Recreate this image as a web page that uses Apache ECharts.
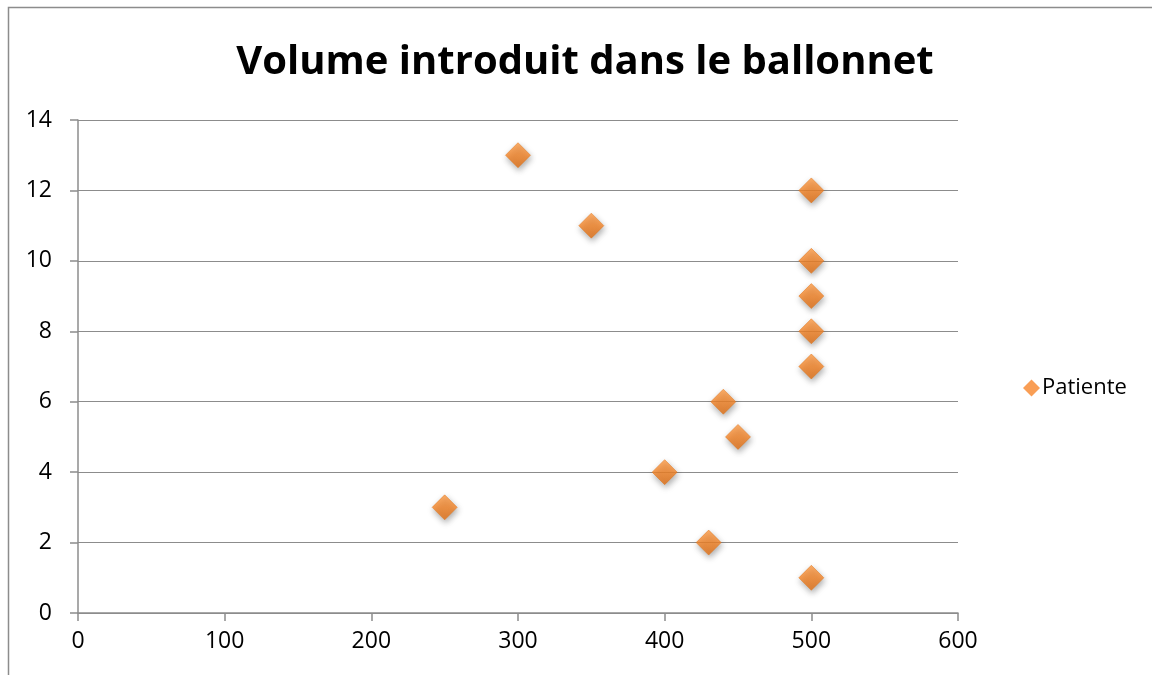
<!DOCTYPE html>
<html><head><meta charset="utf-8">
<script src="https://cdn.jsdelivr.net/npm/echarts@6/dist/echarts.min.js"></script>
<style>html,body{margin:0;padding:0;background:#fff}#c{width:1152px;height:675px}</style>
</head><body><div id="c"></div>
<script>
const title = 'Volume introduit dans le ballonnet';
const seriesName = 'Patiente';
const xValues = [500, 430, 250, 400, 450, 440, 500, 500, 500, 500, 350, 500, 300];
const yValues = [1, 2, 3, 4, 5, 6, 7, 8, 9, 10, 11, 12, 13];

const chart = echarts.init(document.getElementById('c'), null, {renderer: 'canvas'});
const markerColor = new echarts.graphic.LinearGradient(0, 0, 0, 1, [
  {offset: 0, color: '#fb9a45'},
  {offset: 0.5, color: '#f78628'},
  {offset: 1, color: '#e26f12'}
]);
const font = '"Open Sans", "Liberation Sans", sans-serif';
chart.setOption({
  animation: false,
  backgroundColor: '#fff',
  title: {
    text: title, left: 580, top: 38, textAlign: 'center',
    textStyle: {fontFamily: font, fontSize: 40, fontWeight: 'bold', color: '#000'}
  },
  graphic: [{
    type: 'rect', shape: {x: 8.5, y: 7.5, width: 1200, height: 700},
    style: {fill: 'none', stroke: '#8c8c8c', lineWidth: 1.5}, silent: true
  }],
  legend: {
    left: 1018, top: 372, orient: 'vertical', itemWidth: 17, itemHeight: 17, itemGap: 6,
    icon: 'diamond',
    textStyle: {fontFamily: font, fontSize: 22, color: '#000', padding: [0,0,0,-3]},
    data: [{name: seriesName, itemStyle: {color: '#f7862a', borderWidth: 0}}]
  },
  grid: {left: 78, right: 194, top: 120, bottom: 62, containLabel: false},
  xAxis: {
    type: 'value', min: 0, max: 600, interval: 100,
    axisLine: {show: true, lineStyle: {color: '#8c8c8c', width: 1.5}},
    axisTick: {show: true, inside: false, length: 8, lineStyle: {color: '#8c8c8c', width: 1.5}},
    axisLabel: {fontFamily: font, fontSize: 23, color: '#000', margin: 17},
    splitLine: {show: false}
  },
  yAxis: {
    type: 'value', min: 0, max: 14, interval: 2,
    axisLine: {show: true, lineStyle: {color: '#8c8c8c', width: 1.5}},
    axisTick: {show: true, inside: false, length: 8, lineStyle: {color: '#8c8c8c', width: 1.5}},
    axisLabel: {fontFamily: font, fontSize: 23, color: '#000', margin: 26},
    splitLine: {show: true, lineStyle: {color: '#8c8c8c', width: 1.2}}
  },
  series: [{
    name: seriesName, type: 'scatter', symbol: 'diamond', symbolSize: 25,
    data: xValues.map((x, i) => [x, yValues[i]]),
    itemStyle: {
      color: markerColor, borderColor: '#e2700f', borderWidth: 0.6,
      shadowBlur: 6, shadowColor: 'rgba(0,0,0,0.4)', shadowOffsetX: 1, shadowOffsetY: 3
    }
  }]
});
</script></body></html>
